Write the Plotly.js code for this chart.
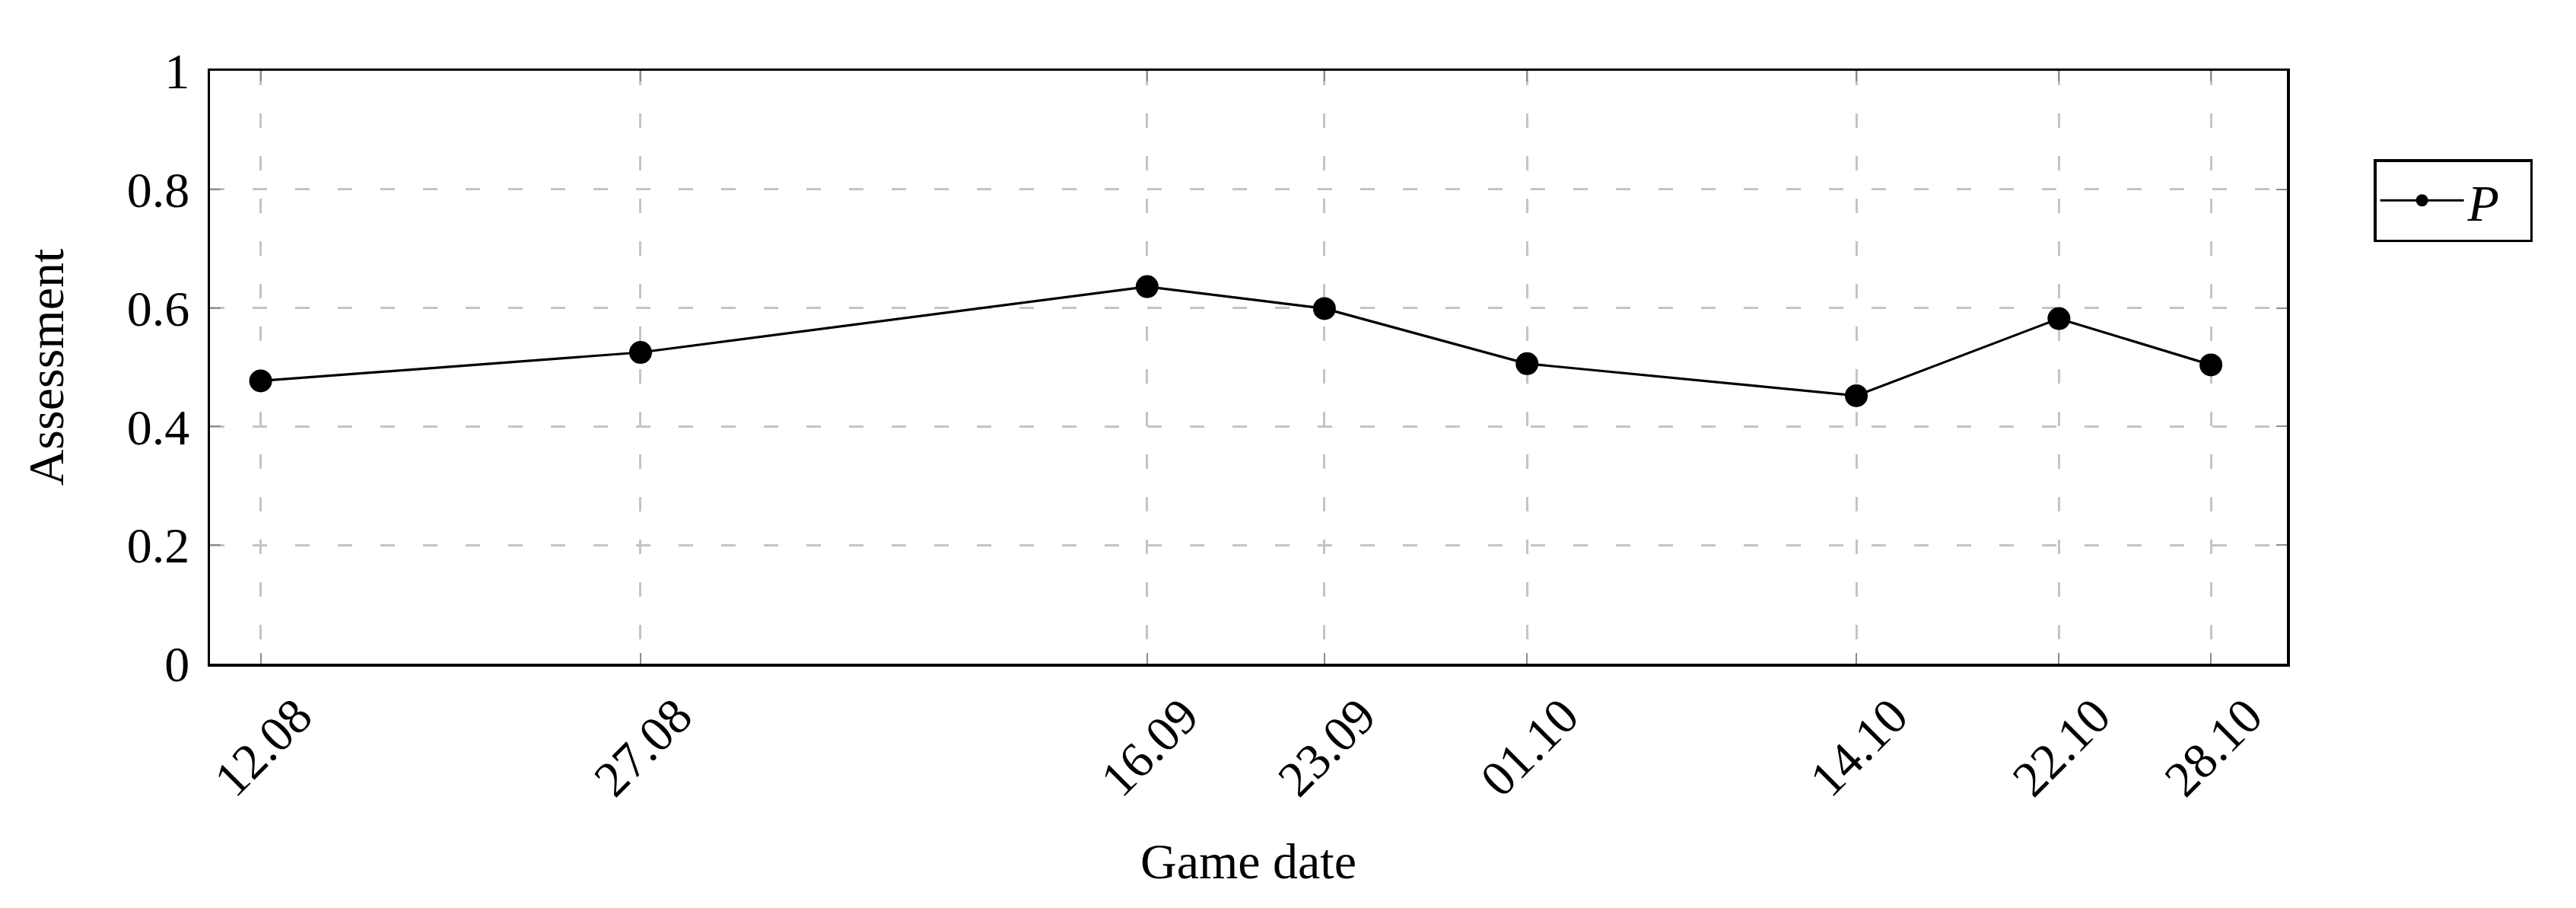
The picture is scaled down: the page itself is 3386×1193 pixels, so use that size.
<!DOCTYPE html>
<html>
<head>
<meta charset="utf-8">
<script src="https://cdn.plot.ly/plotly-3.0.1.min.js"></script>
<style>html,body{margin:0;padding:0;background:#fff;}#chart{width:3386px;height:1193px;}</style>
</head>
<body>
<div id="chart"></div>
<script>
// Game dates (year is only used to place the points on a time axis)
const gameDates = ['2023-08-12','2023-08-27','2023-09-16','2023-09-23','2023-10-01','2023-10-14','2023-10-22','2023-10-28'];
const tickLabels = ['12.08','27.08','16.09','23.09','01.10','14.10','22.10','28.10'];
const assessmentP = [0.477, 0.525, 0.636, 0.599, 0.506, 0.452, 0.582, 0.504];
const seriesName = '<i>P</i>\u00a0\u00a0';
const xRange = ['2023-08-10','2023-10-31'];
const yTicks = [0, 0.2, 0.4, 0.6, 0.8, 1];

const FONT = 'Liberation Serif, Times New Roman, serif';

const trace = {
  x: gameDates,
  y: assessmentP,
  type: 'scatter',
  mode: 'lines+markers',
  name: seriesName,
  line: {color: '#000', width: 3.2},
  marker: {color: '#000', size: 30, symbol: 'circle'}
};

const axisCommon = {
  showline: true, linecolor: '#000', linewidth: 3.5, mirror: 'allticks',
  ticks: 'inside', ticklen: 14, tickwidth: 2, tickcolor: '#8c8c8c',
  showgrid: true, gridcolor: '#c4c4c4', gridwidth: 3, griddash: '19px,37px',
  zeroline: false,
  tickfont: {family: FONT, size: 66, color: '#000'}
};

const layout = {
  width: 3386, height: 1193,
  paper_bgcolor: '#fff', plot_bgcolor: '#fff',
  margin: {l: 276, r: 380, t: 93, b: 321},
  font: {family: FONT, size: 66, color: '#000'},
  showlegend: true,
  legend: {
    x: 1.0418, xanchor: 'left', y: 0.851, yanchor: 'top',
    bordercolor: '#000', borderwidth: 3.5, bgcolor: '#fff',
    font: {family: FONT, size: 68, color: '#000'},
    itemwidth: 110
  },
  xaxis: Object.assign({}, axisCommon, {
    type: 'date',
    range: xRange,
    tickmode: 'array', tickvals: gameDates, ticktext: tickLabels,
    tickangle: -45,
    ticklabelstandoff: 0,
    ticklabelshift: 48,
    title: {text: 'Game date', font: {family: FONT, size: 66, color: '#000'}, standoff: 50}
  }),
  yaxis: Object.assign({}, axisCommon, {
    range: [0, 1],
    tickmode: 'array', tickvals: yTicks,
    ticklabelstandoff: 10,
    title: {text: 'Assessment', font: {family: FONT, size: 66, color: '#000'}, standoff: 62}
  })
};

Plotly.newPlot('chart', [trace], layout, {staticPlot: true, displayModeBar: false});
</script>
</body>
</html>
